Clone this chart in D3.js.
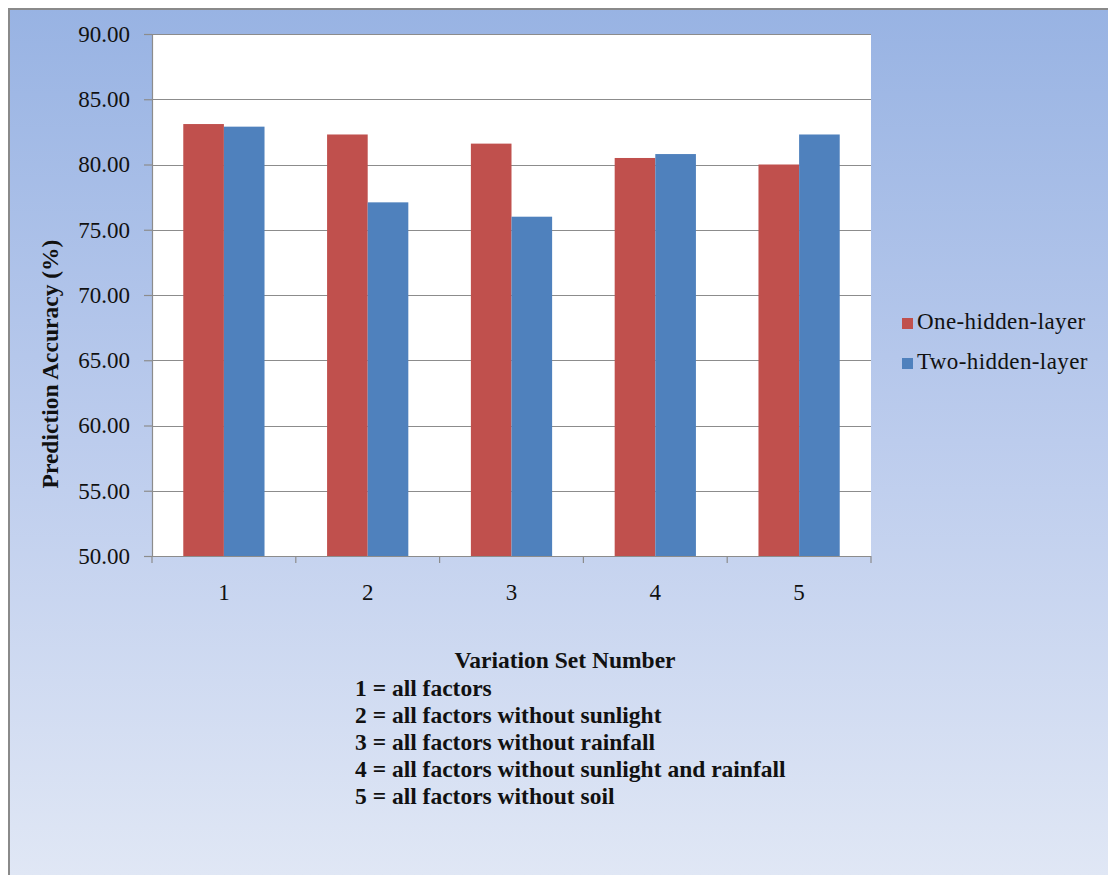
<!DOCTYPE html>
<html>
<head>
<meta charset="utf-8">
<script src="https://cdn.jsdelivr.net/npm/d3@7"></script>
<style>
  html, body { margin: 0; padding: 0; background: #ffffff; }
  svg { display: block; }
  text { font-family: "Liberation Serif", "Times New Roman", serif; fill: #111111; }
</style>
</head>
<body>
<svg id="chart" width="1108" height="875"></svg>
<script>
// Prediction accuracy for each variation set
const categories = ["1", "2", "3", "4", "5"];
const seriesNames = ["One-hidden-layer", "Two-hidden-layer"];
const oneHiddenLayer = [83.1, 82.3, 81.6, 80.5, 80.0];
const twoHiddenLayer = [82.9, 77.1, 76.0, 80.8, 82.3];
const yTickValues = [50, 55, 60, 65, 70, 75, 80, 85, 90];
const seriesColors = ["#c0504d", "#4f81bd"];
const xAxisTitle = "Variation Set Number";
const yAxisTitle = "Prediction Accuracy (%)";
const setDescriptions = [
  "1 = all factors",
  "2 = all factors without sunlight",
  "3 = all factors without rainfall",
  "4 = all factors without sunlight and rainfall",
  "5 = all factors without soil"
];

const rows = categories.map((c, i) => ({
  category: c,
  values: [oneHiddenLayer[i], twoHiddenLayer[i]]
}));

const svg = d3.select("#chart");

// chart area background: vertical blue gradient
const defs = svg.append("defs");
const grad = defs.append("linearGradient")
  .attr("id", "bg").attr("x1", 0).attr("y1", 0).attr("x2", 0).attr("y2", 1);
grad.append("stop").attr("offset", "0%").attr("stop-color", "#98b3e3");
grad.append("stop").attr("offset", "50%").attr("stop-color", "#bccced");
grad.append("stop").attr("offset", "100%").attr("stop-color", "#e0e7f5");

svg.append("rect").attr("x", 8).attr("y", 8).attr("width", 1100).attr("height", 867)
  .attr("fill", "url(#bg)");
svg.append("path").attr("d", "M9,875V9H1108").attr("fill", "none")
  .attr("stroke", "#8a8a8a").attr("stroke-width", 2);

const plot = { left: 152, right: 871, top: 34, bottom: 556 };

const x = d3.scaleBand().domain(categories).range([plot.left, plot.right])
  .paddingInner(0).paddingOuter(0);
const xInner = d3.scaleBand().domain(seriesNames).range([0, x.bandwidth()])
  .paddingInner(0).paddingOuter(0.77);
const y = d3.scaleLinear().domain([50, 90]).range([plot.bottom, plot.top]);

// plot area
svg.append("rect")
  .attr("x", plot.left).attr("y", plot.top)
  .attr("width", plot.right - plot.left).attr("height", plot.bottom - plot.top)
  .attr("fill", "#ffffff");

// horizontal gridlines
svg.append("g").selectAll("line").data(yTickValues.filter(v => v > 50)).join("line")
  .attr("x1", plot.left).attr("x2", plot.right)
  .attr("y1", d => Math.round(y(d)) + 0.5).attr("y2", d => Math.round(y(d)) + 0.5)
  .attr("stroke", "#8c8c8c").attr("stroke-width", 1.2);

// bars
const groups = svg.append("g").selectAll("g").data(rows).join("g")
  .attr("transform", d => `translate(${x(d.category)},0)`);
groups.selectAll("rect")
  .data(d => d.values.map((v, i) => ({ series: seriesNames[i], value: v, i })))
  .join("rect")
  .attr("x", d => xInner(d.series))
  .attr("width", xInner.bandwidth())
  .attr("y", d => y(d.value))
  .attr("height", d => y(50) - y(d.value))
  .attr("fill", d => seriesColors[d.i]);

// y axis
const yAxis = svg.append("g")
  .attr("transform", `translate(${plot.left},0)`)
  .call(d3.axisLeft(y).tickValues(yTickValues).tickFormat(d3.format(".2f"))
    .tickSize(8).tickPadding(14));
yAxis.select(".domain").attr("stroke", "#8c8c8c").attr("stroke-width", 1.2);
yAxis.selectAll(".tick line").attr("stroke", "#8c8c8c").attr("stroke-width", 1.2);
yAxis.selectAll(".tick text")
  .style("font-family", "'Liberation Serif', serif")
  .style("font-size", "23px").attr("fill", "#111");

// x axis: labels centred on categories, ticks on category boundaries
const xAxis = svg.append("g")
  .attr("transform", `translate(0,${plot.bottom})`)
  .call(d3.axisBottom(x).tickSize(0).tickPadding(28));
xAxis.select(".domain").remove();
xAxis.selectAll(".tick text")
  .style("font-family", "'Liberation Serif', serif")
  .style("font-size", "23px").attr("fill", "#111");
const boundaries = categories.map(c => x(c)).concat([x.range()[1]]);
svg.append("line")
  .attr("x1", plot.left).attr("x2", plot.right)
  .attr("y1", plot.bottom + 0.5).attr("y2", plot.bottom + 0.5)
  .attr("stroke", "#8c8c8c").attr("stroke-width", 1.2);
svg.append("g").selectAll("line").data(boundaries).join("line")
  .attr("x1", d => d).attr("x2", d => d)
  .attr("y1", plot.bottom).attr("y2", plot.bottom + 7)
  .attr("stroke", "#8c8c8c").attr("stroke-width", 1.2);

// y axis title
svg.append("text")
  .attr("transform", "translate(58,364) rotate(-90)")
  .attr("text-anchor", "middle")
  .style("font-size", "23.5px").style("font-weight", "bold")
  .text(yAxisTitle);

// legend
const legend = svg.append("g").selectAll("g").data(seriesNames).join("g")
  .attr("transform", (d, i) => `translate(902,${318 + i * 40})`);
legend.append("rect").attr("width", 11).attr("height", 11)
  .attr("fill", (d, i) => seriesColors[i]);
legend.append("text").attr("x", 15).attr("y", 11)
  .style("font-size", "23px").attr("letter-spacing", "0.4px")
  .text(d => d);

// x axis title and set descriptions
svg.append("text")
  .attr("x", 565).attr("y", 668).attr("text-anchor", "middle")
  .style("font-size", "23.5px").style("font-weight", "bold")
  .text(xAxisTitle);
svg.append("g").selectAll("text").data(setDescriptions).join("text")
  .attr("x", 355).attr("y", (d, i) => 696 + i * 27)
  .style("font-size", "23.5px").style("font-weight", "bold")
  .text(d => d);
</script>
</body>
</html>
